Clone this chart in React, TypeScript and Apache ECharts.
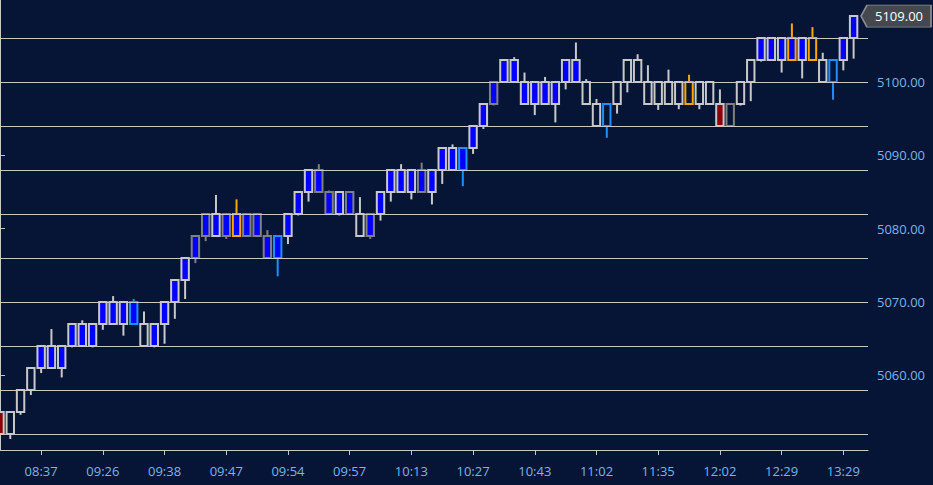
import React, { useEffect, useRef } from "react";
import * as echarts from "echarts";

// ---- data ----
const BRICK = 3;

const brickBottoms = [
  5052, 5052, 5055, 5058, 5061, 5061, 5061, 5064, 5064, 5064,
  5067, 5067, 5067, 5067, 5064, 5064, 5067, 5070, 5073, 5076,
  5079, 5079, 5079, 5079, 5079, 5079, 5076, 5076, 5079, 5082,
  5085, 5085, 5082, 5082, 5082, 5079, 5079, 5082, 5085, 5085,
  5085, 5085, 5085, 5088, 5088, 5088, 5091, 5094, 5097, 5100,
  5100, 5097, 5097, 5097, 5097, 5100, 5100, 5097, 5094, 5094,
  5097, 5100, 5100, 5097, 5097, 5097, 5097, 5097, 5097, 5097,
  5094, 5094, 5097, 5100, 5103, 5103, 5103, 5103, 5103, 5103,
  5100, 5100, 5103, 5106,
];

const brickHighs = [
  5055, 5055, 5058, 5061, 5064, 5066.3, 5064, 5067, 5067.5, 5067,
  5070, 5070.8, 5070, 5070.4, 5068.7, 5067, 5070, 5073, 5076, 5079,
  5082, 5084.6, 5082, 5084, 5082, 5082, 5079.8, 5079, 5082, 5085,
  5088, 5088.8, 5085.2, 5085, 5085, 5084.3, 5082, 5085, 5088, 5088.8,
  5088, 5089, 5088, 5091, 5091.5, 5091, 5094, 5097, 5100, 5103,
  5103.4, 5101.3, 5100, 5100.7, 5100, 5103, 5105.4, 5100.4, 5097.7, 5097,
  5100, 5103, 5103.8, 5102.3, 5100, 5101.7, 5100, 5101, 5100, 5100,
  5099, 5097, 5100, 5103, 5106, 5106, 5106, 5108, 5106, 5107.5,
  5104, 5103, 5106, 5109,
];

const brickLows = [
  5052, 5051.3, 5054.6, 5057.3, 5060.3, 5061, 5059.7, 5063.8, 5064, 5063.8,
  5066.2, 5067, 5065.4, 5067, 5064, 5063.8, 5064.3, 5067.7, 5070.4, 5075.3,
  5078.3, 5079, 5078.6, 5079, 5079, 5079, 5076, 5073.5, 5077.9, 5081.8,
  5083.7, 5085, 5082, 5081.8, 5082, 5079, 5078.6, 5081.1, 5083.7, 5085,
  5084, 5085, 5083.3, 5086.1, 5088, 5085.8, 5090.2, 5093.6, 5096.8, 5100,
  5100, 5097, 5095.5, 5097, 5094.5, 5099, 5100, 5097, 5094, 5092.4,
  5095.7, 5098.6, 5100, 5097, 5096.2, 5097, 5096.3, 5097, 5096.3, 5097,
  5094, 5094, 5096.8, 5097.4, 5102.8, 5103, 5101.3, 5103, 5100.5, 5103,
  5100, 5097.6, 5101.6, 5103.2,
];

const brickStyles = [
  "red", "dn", "dn", "dn", "up", "up", "up", "up", "up", "up",
  "up", "up", "up", "upB", "dn", "up", "up", "up", "up", "upG",
  "upG", "up", "upG", "upO", "upG", "upG", "upG", "upB", "up", "up",
  "up", "upG", "upG", "up", "upG", "dn", "upG", "up", "up", "up",
  "up", "upG", "up", "up", "up", "upB", "up", "up", "upG", "up",
  "up", "up", "up", "up", "up", "up", "up", "dn", "dn", "dnB",
  "dn", "dn", "dn", "dn", "dn", "dn", "dn", "dnO", "dn", "dn",
  "red", "dnG", "dn", "dn", "up", "up", "up", "upO", "up", "dnO",
  "dn", "dnB", "up", "up",
];

const timeLabels = [
  "08:37", "09:26", "09:38", "09:47", "09:54", "09:57", "10:13",
  "10:27", "10:43", "11:02", "11:35", "12:02", "12:29", "13:29",
];
const labelIndices = [4, 10, 16, 22, 28, 34, 40, 46, 52, 58, 64, 70, 76, 82];

const priceLabels = [5060, 5070, 5080, 5090, 5100];
const gridLevels = [5052, 5058, 5064, 5070, 5076, 5082, 5088, 5094, 5100, 5106];
const lastPrice = 5109;

// ---- styles ----
const LIGHT = "#c8c8c8";
const GRAY = "#808080";
const BLUE = "#0000ff";
const DODGER = "#1e90ff";
const ORANGE = "#ffa500";
const DARKRED = "#8b0000";

const STYLE_MAP: Record<string, { fill: string; stroke: string }> = {
  up: { fill: BLUE, stroke: LIGHT },
  upG: { fill: BLUE, stroke: GRAY },
  upB: { fill: BLUE, stroke: DODGER },
  upO: { fill: BLUE, stroke: ORANGE },
  dn: { fill: "transparent", stroke: LIGHT },
  dnG: { fill: "transparent", stroke: GRAY },
  dnB: { fill: "transparent", stroke: DODGER },
  dnO: { fill: "transparent", stroke: ORANGE },
  red: { fill: DARKRED, stroke: LIGHT },
};

const FONT = "'Open Sans', 'Noto Sans', sans-serif";
const LABEL_COLOR = "#7ab4e8";

export default function App() {
  const ref = useRef<HTMLDivElement>(null);

  useEffect(() => {
    if (!ref.current) return;
    const chart = echarts.init(ref.current, undefined, { renderer: "svg" });

    const data = brickBottoms.map((b, i) => [i, b, b + BRICK, brickHighs[i], brickLows[i]]);

    const option: any = {
      animation: false,
      backgroundColor: "#061536",
      textStyle: { fontFamily: FONT },
      grid: { left: 0, top: 0, right: 65, bottom: 35, containLabel: false },
      xAxis: {
        type: "value",
        min: 0,
        max: 84.4,
        axisLine: { show: true, onZero: false, lineStyle: { color: LIGHT, width: 1 } },
        axisTick: { show: true, length: 5, customValues: labelIndices, lineStyle: { color: LIGHT } },
        axisLabel: {
          customValues: labelIndices,
          formatter: (v: number) => {
            const k = labelIndices.indexOf(Math.round(v));
            return k >= 0 ? timeLabels[k] : "";
          },
          color: LABEL_COLOR,
          fontSize: 13,
          margin: 14,
          fontFamily: FONT,
        },
        splitLine: { show: false },
      },
      yAxis: {
        type: "value",
        position: "right",
        min: 5049.8,
        max: 5111.2,
        axisLine: { show: true, lineStyle: { color: LIGHT, width: 1 } },
        axisTick: { show: true, length: 5, customValues: priceLabels, lineStyle: { color: LIGHT } },
        axisLabel: {
          customValues: priceLabels,
          formatter: (v: number) => v.toFixed(2),
          color: LABEL_COLOR,
          fontSize: 13,
          margin: 9,
          fontFamily: FONT,
        },
        splitLine: { show: false },
      },
      series: [
        {
          type: "line",
          data: [],
          z: 1,
          silent: true,
          markLine: {
            silent: true,
            symbol: ["none", "none"],
            label: { show: false },
            lineStyle: { color: LIGHT, width: 1, type: "solid" },
            data: gridLevels.map((v) => ({ yAxis: v })),
          },
          markPoint: {
            silent: true,
            symbol: "path://M0,11L6,0L70,0L70,22L6,22Z",
            symbolSize: [70, 22],
            symbolOffset: [28, 0],
            itemStyle: { color: "#46484f", borderColor: "#8c8c8c", borderWidth: 1 },
            label: {
              show: true,
              formatter: () => lastPrice.toFixed(2),
              color: "#ffffff",
              fontSize: 13,
              fontFamily: FONT,
              offset: [3, 0],
            },
            data: [{ coord: [84.4, lastPrice], value: lastPrice }],
          },
        },
        {
          type: "custom",
          z: 2,
          data,
          encode: { x: 0, y: [1, 2, 3, 4] },
          renderItem: (params: any, api: any) => {
            const i = api.value(0);
            const b = api.value(1);
            const t = api.value(2);
            const h = api.value(3);
            const l = api.value(4);
            const st = STYLE_MAP[brickStyles[params.dataIndex]];
            const pt = api.coord([i, t]);
            const pb = api.coord([i, b]);
            const ph = api.coord([i, h]);
            const pl = api.coord([i, l]);
            const w = api.size([1, 0])[0] * 0.72;
            const children: any[] = [];
            if (h > t) {
              children.push({
                type: "line",
                shape: { x1: pt[0], y1: ph[1], x2: pt[0], y2: pt[1] },
                style: { stroke: st.stroke, lineWidth: 2 },
              });
            }
            if (l < b) {
              children.push({
                type: "line",
                shape: { x1: pb[0], y1: pb[1], x2: pb[0], y2: pl[1] },
                style: { stroke: st.stroke, lineWidth: 2 },
              });
            }
            children.push({
              type: "rect",
              shape: { x: pt[0] - w / 2, y: pt[1], width: w, height: pb[1] - pt[1] },
              style: { fill: st.fill, stroke: st.stroke, lineWidth: 2 },
            });
            return { type: "group", children };
          },
        },
      ],
    };

    chart.setOption(option);
    return () => chart.dispose();
  }, []);

  return (
    <div
      ref={ref}
      style={{ position: "fixed", left: 0, top: 0, width: 933, height: 485 }}
    />
  );
}
